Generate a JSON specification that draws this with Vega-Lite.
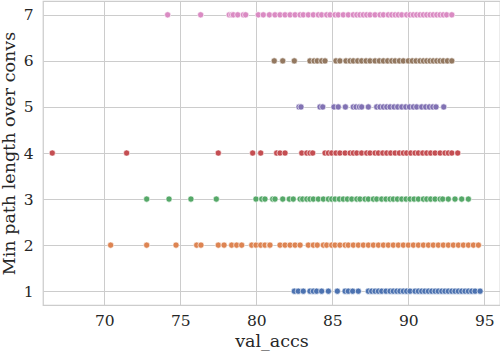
{
  "$schema": "https://vega.github.io/schema/vega-lite/v6.json",
  "width": 457,
  "height": 304,
  "autosize": "none",
  "padding": {"left": 43, "top": 1, "right": 0, "bottom": 51},
  "background": "white",
  "config": {
    "view": {"stroke": "#cccccc", "strokeWidth": 1.25},
    "font": "DejaVu Serif"
  },
  "data": {
    "values": [
      {"acc": 74.17, "len": 7}, {"acc": 76.34, "len": 7}, {"acc": 78.22, "len": 7}, {"acc": 78.38, "len": 7}, {"acc": 78.49, "len": 7}, {"acc": 78.78, "len": 7}, {"acc": 79.15, "len": 7}, {"acc": 79.3, "len": 7}, {"acc": 80.13, "len": 7}, {"acc": 80.46, "len": 7}, {"acc": 80.86, "len": 7},
      {"acc": 81.23, "len": 7}, {"acc": 81.56, "len": 7}, {"acc": 81.89, "len": 7}, {"acc": 82.22, "len": 7}, {"acc": 82.55, "len": 7}, {"acc": 82.88, "len": 7}, {"acc": 83.09, "len": 7}, {"acc": 83.42, "len": 7}, {"acc": 83.75, "len": 7}, {"acc": 84.08, "len": 7}, {"acc": 84.3, "len": 7}, {"acc": 84.63, "len": 7}, {"acc": 84.85, "len": 7}, {"acc": 85.18, "len": 7}, {"acc": 85.39, "len": 7}, {"acc": 85.72, "len": 7}, {"acc": 86.05, "len": 7}, {"acc": 86.38, "len": 7}, {"acc": 86.61, "len": 7}, {"acc": 86.82, "len": 7}, {"acc": 87.04, "len": 7}, {"acc": 87.26, "len": 7}, {"acc": 87.48, "len": 7}, {"acc": 87.81, "len": 7}, {"acc": 88.14, "len": 7}, {"acc": 88.36, "len": 7}, {"acc": 88.68, "len": 7}, {"acc": 88.91, "len": 7}, {"acc": 89.13, "len": 7}, {"acc": 89.34, "len": 7}, {"acc": 89.57, "len": 7}, {"acc": 89.89, "len": 7}, {"acc": 90.11, "len": 7}, {"acc": 90.33, "len": 7}, {"acc": 90.55, "len": 7}, {"acc": 90.77, "len": 7}, {"acc": 90.99, "len": 7}, {"acc": 91.21, "len": 7}, {"acc": 91.43, "len": 7}, {"acc": 91.64, "len": 7}, {"acc": 91.87, "len": 7}, {"acc": 92.09, "len": 7}, {"acc": 92.3, "len": 7}, {"acc": 92.52, "len": 7}, {"acc": 92.86, "len": 7},

      {"acc": 81.18, "len": 6}, {"acc": 81.74, "len": 6}, {"acc": 82.5, "len": 6}, {"acc": 83.53, "len": 6}, {"acc": 83.8, "len": 6}, {"acc": 84.01, "len": 6}, {"acc": 84.3, "len": 6}, {"acc": 84.52, "len": 6}, {"acc": 85.24, "len": 6}, {"acc": 85.5, "len": 6}, {"acc": 85.9, "len": 6}, {"acc": 86.17, "len": 6}, {"acc": 86.38, "len": 6}, {"acc": 86.67, "len": 6}, {"acc": 86.93, "len": 6}, {"acc": 87.22, "len": 6}, {"acc": 87.48, "len": 6}, {"acc": 87.81, "len": 6}, {"acc": 88.09, "len": 6}, {"acc": 88.36, "len": 6}, {"acc": 88.64, "len": 6}, {"acc": 88.91, "len": 6}, {"acc": 89.13, "len": 6}, {"acc": 89.41, "len": 6}, {"acc": 89.67, "len": 6}, {"acc": 90.0, "len": 6}, {"acc": 90.26, "len": 6}, {"acc": 90.51, "len": 6}, {"acc": 90.77, "len": 6}, {"acc": 90.99, "len": 6}, {"acc": 91.21, "len": 6}, {"acc": 91.43, "len": 6}, {"acc": 91.64, "len": 6}, {"acc": 91.87, "len": 6}, {"acc": 92.09, "len": 6}, {"acc": 92.3, "len": 6}, {"acc": 92.57, "len": 6}, {"acc": 92.86, "len": 6},

      {"acc": 82.81, "len": 5}, {"acc": 82.94, "len": 5}, {"acc": 84.19, "len": 5}, {"acc": 84.37, "len": 5}, {"acc": 85.11, "len": 5}, {"acc": 85.39, "len": 5}, {"acc": 85.86, "len": 5}, {"acc": 86.38, "len": 5}, {"acc": 86.56, "len": 5}, {"acc": 86.78, "len": 5}, {"acc": 86.93, "len": 5}, {"acc": 87.37, "len": 5}, {"acc": 87.92, "len": 5}, {"acc": 88.14, "len": 5}, {"acc": 88.36, "len": 5}, {"acc": 88.58, "len": 5}, {"acc": 88.8, "len": 5}, {"acc": 89.06, "len": 5}, {"acc": 89.3, "len": 5}, {"acc": 89.57, "len": 5}, {"acc": 89.83, "len": 5}, {"acc": 90.07, "len": 5}, {"acc": 90.33, "len": 5}, {"acc": 90.55, "len": 5}, {"acc": 90.88, "len": 5}, {"acc": 91.14, "len": 5}, {"acc": 91.38, "len": 5}, {"acc": 91.61, "len": 5}, {"acc": 91.82, "len": 5}, {"acc": 92.33, "len": 5},

      {"acc": 66.58, "len": 4}, {"acc": 71.47, "len": 4}, {"acc": 77.5, "len": 4}, {"acc": 79.76, "len": 4}, {"acc": 80.29, "len": 4}, {"acc": 81.34, "len": 4}, {"acc": 81.56, "len": 4}, {"acc": 81.89, "len": 4}, {"acc": 82.99, "len": 4}, {"acc": 83.32, "len": 4}, {"acc": 83.53, "len": 4}, {"acc": 83.71, "len": 4}, {"acc": 84.52, "len": 4}, {"acc": 84.74, "len": 4}, {"acc": 84.96, "len": 4}, {"acc": 85.24, "len": 4}, {"acc": 85.5, "len": 4}, {"acc": 85.84, "len": 4}, {"acc": 86.17, "len": 4}, {"acc": 86.38, "len": 4}, {"acc": 86.61, "len": 4}, {"acc": 86.93, "len": 4}, {"acc": 87.26, "len": 4}, {"acc": 87.48, "len": 4}, {"acc": 87.81, "len": 4}, {"acc": 88.03, "len": 4}, {"acc": 88.32, "len": 4}, {"acc": 88.58, "len": 4}, {"acc": 88.84, "len": 4}, {"acc": 89.13, "len": 4}, {"acc": 89.41, "len": 4}, {"acc": 89.67, "len": 4}, {"acc": 89.89, "len": 4}, {"acc": 90.16, "len": 4}, {"acc": 90.44, "len": 4}, {"acc": 90.66, "len": 4}, {"acc": 90.95, "len": 4}, {"acc": 91.21, "len": 4}, {"acc": 91.47, "len": 4}, {"acc": 91.76, "len": 4}, {"acc": 92.09, "len": 4}, {"acc": 92.41, "len": 4}, {"acc": 92.63, "len": 4}, {"acc": 92.86, "len": 4}, {"acc": 93.25, "len": 4},

      {"acc": 72.79, "len": 3}, {"acc": 74.26, "len": 3}, {"acc": 75.7, "len": 3}, {"acc": 77.37, "len": 3}, {"acc": 79.98, "len": 3}, {"acc": 80.36, "len": 3}, {"acc": 80.57, "len": 3}, {"acc": 81.08, "len": 3}, {"acc": 81.23, "len": 3}, {"acc": 81.74, "len": 3}, {"acc": 82.17, "len": 3}, {"acc": 82.43, "len": 3}, {"acc": 82.88, "len": 3}, {"acc": 83.05, "len": 3}, {"acc": 83.32, "len": 3}, {"acc": 83.53, "len": 3}, {"acc": 83.75, "len": 3}, {"acc": 84.08, "len": 3}, {"acc": 84.41, "len": 3}, {"acc": 84.74, "len": 3}, {"acc": 84.96, "len": 3}, {"acc": 85.18, "len": 3}, {"acc": 85.46, "len": 3}, {"acc": 85.72, "len": 3}, {"acc": 85.99, "len": 3}, {"acc": 86.28, "len": 3}, {"acc": 86.61, "len": 3}, {"acc": 86.82, "len": 3}, {"acc": 87.15, "len": 3}, {"acc": 87.37, "len": 3}, {"acc": 87.7, "len": 3}, {"acc": 87.92, "len": 3}, {"acc": 88.25, "len": 3}, {"acc": 88.53, "len": 3}, {"acc": 88.8, "len": 3}, {"acc": 89.01, "len": 3}, {"acc": 89.28, "len": 3}, {"acc": 89.57, "len": 3}, {"acc": 89.85, "len": 3}, {"acc": 90.11, "len": 3}, {"acc": 90.38, "len": 3}, {"acc": 90.66, "len": 3}, {"acc": 90.99, "len": 3}, {"acc": 91.21, "len": 3}, {"acc": 91.47, "len": 3}, {"acc": 91.76, "len": 3}, {"acc": 92.09, "len": 3}, {"acc": 92.26, "len": 3}, {"acc": 92.63, "len": 3}, {"acc": 93.07, "len": 3}, {"acc": 93.51, "len": 3}, {"acc": 93.95, "len": 3},

      {"acc": 70.42, "len": 2}, {"acc": 72.79, "len": 2}, {"acc": 74.72, "len": 2}, {"acc": 76.08, "len": 2}, {"acc": 76.36, "len": 2}, {"acc": 77.5, "len": 2}, {"acc": 77.88, "len": 2}, {"acc": 78.38, "len": 2}, {"acc": 78.71, "len": 2}, {"acc": 79.04, "len": 2}, {"acc": 79.7, "len": 2}, {"acc": 79.98, "len": 2}, {"acc": 80.29, "len": 2}, {"acc": 80.57, "len": 2}, {"acc": 80.86, "len": 2}, {"acc": 80.9, "len": 2}, {"acc": 81.56, "len": 2}, {"acc": 81.89, "len": 2}, {"acc": 82.22, "len": 2}, {"acc": 82.55, "len": 2}, {"acc": 82.88, "len": 2}, {"acc": 83.42, "len": 2}, {"acc": 83.75, "len": 2}, {"acc": 84.01, "len": 2}, {"acc": 84.41, "len": 2}, {"acc": 84.63, "len": 2}, {"acc": 84.96, "len": 2}, {"acc": 85.18, "len": 2}, {"acc": 85.5, "len": 2}, {"acc": 85.84, "len": 2}, {"acc": 86.05, "len": 2}, {"acc": 86.38, "len": 2}, {"acc": 86.71, "len": 2}, {"acc": 87.04, "len": 2}, {"acc": 87.37, "len": 2}, {"acc": 87.7, "len": 2}, {"acc": 88.03, "len": 2}, {"acc": 88.36, "len": 2}, {"acc": 88.68, "len": 2}, {"acc": 89.01, "len": 2}, {"acc": 89.34, "len": 2}, {"acc": 89.67, "len": 2}, {"acc": 90.0, "len": 2}, {"acc": 90.33, "len": 2}, {"acc": 90.66, "len": 2}, {"acc": 90.99, "len": 2}, {"acc": 91.32, "len": 2}, {"acc": 91.64, "len": 2}, {"acc": 91.97, "len": 2}, {"acc": 92.3, "len": 2}, {"acc": 92.63, "len": 2}, {"acc": 92.96, "len": 2}, {"acc": 93.29, "len": 2}, {"acc": 93.62, "len": 2}, {"acc": 93.95, "len": 2}, {"acc": 94.28, "len": 2}, {"acc": 94.61, "len": 2},

      {"acc": 82.5, "len": 1}, {"acc": 82.76, "len": 1}, {"acc": 83.09, "len": 1}, {"acc": 83.53, "len": 1}, {"acc": 83.75, "len": 1}, {"acc": 83.97, "len": 1}, {"acc": 84.3, "len": 1}, {"acc": 84.74, "len": 1}, {"acc": 85.33, "len": 1}, {"acc": 85.84, "len": 1}, {"acc": 86.05, "len": 1}, {"acc": 86.34, "len": 1}, {"acc": 86.71, "len": 1}, {"acc": 87.37, "len": 1}, {"acc": 87.59, "len": 1}, {"acc": 87.81, "len": 1}, {"acc": 88.03, "len": 1}, {"acc": 88.25, "len": 1}, {"acc": 88.53, "len": 1}, {"acc": 88.8, "len": 1}, {"acc": 89.01, "len": 1}, {"acc": 89.24, "len": 1}, {"acc": 89.45, "len": 1}, {"acc": 89.67, "len": 1}, {"acc": 89.89, "len": 1}, {"acc": 90.11, "len": 1}, {"acc": 90.44, "len": 1}, {"acc": 90.66, "len": 1}, {"acc": 90.88, "len": 1}, {"acc": 91.09, "len": 1}, {"acc": 91.32, "len": 1}, {"acc": 91.54, "len": 1}, {"acc": 91.76, "len": 1}, {"acc": 91.97, "len": 1}, {"acc": 92.2, "len": 1}, {"acc": 92.41, "len": 1}, {"acc": 92.63, "len": 1}, {"acc": 92.86, "len": 1}, {"acc": 93.07, "len": 1}, {"acc": 93.29, "len": 1}, {"acc": 93.51, "len": 1}, {"acc": 93.73, "len": 1}, {"acc": 93.95, "len": 1}, {"acc": 94.17, "len": 1}, {"acc": 94.39, "len": 1}, {"acc": 94.72, "len": 1}
    ]
  },
  "mark": {"type": "circle", "size": 38, "opacity": 1, "stroke": "white", "strokeWidth": 0.6},
  "encoding": {
    "x": {
      "field": "acc", "type": "quantitative",
      "scale": {"domain": [65.97, 96.03], "nice": false, "zero": false},
      "axis": {
        "title": "val_accs", "values": [70, 75, 80, 85, 90, 95],
        "grid": true, "gridColor": "#cccccc", "gridWidth": 1,
        "domain": false, "ticks": false, "labelPadding": 8,
        "labelFont": "DejaVu Serif", "labelFontSize": 15.5, "labelColor": "#262626",
        "titleFont": "DejaVu Serif", "titleFontSize": 17.5, "titleFontWeight": "normal", "titleColor": "#262626", "titlePadding": 4
      }
    },
    "y": {
      "field": "len", "type": "quantitative",
      "scale": {"domain": [0.7, 7.3], "nice": false, "zero": false},
      "axis": {
        "title": "Min path length over convs", "values": [1, 2, 3, 4, 5, 6, 7],
        "grid": true, "gridColor": "#cccccc", "gridWidth": 1,
        "domain": false, "ticks": false, "labelPadding": 10,
        "labelFont": "DejaVu Serif", "labelFontSize": 15.5, "labelColor": "#262626",
        "titleFont": "DejaVu Serif", "titleFontSize": 17.5, "titleFontWeight": "normal", "titleColor": "#262626", "titlePadding": 5
      }
    },
    "color": {
      "field": "len", "type": "nominal",
      "scale": {"domain": [1, 2, 3, 4, 5, 6, 7], "range": ["#4c72b0", "#dd8452", "#55a868", "#c44e52", "#8172b3", "#937860", "#da8bc3"]},
      "legend": null
    }
  }
}
